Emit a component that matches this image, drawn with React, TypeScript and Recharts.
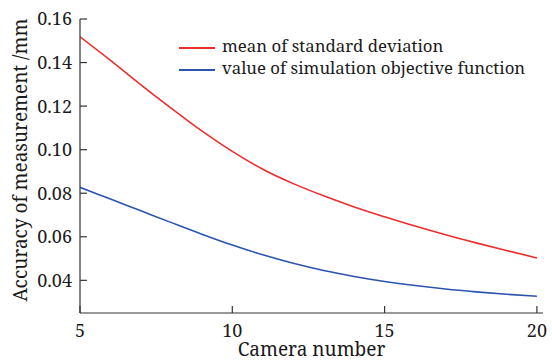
import { Label, Legend, Line, LineChart, XAxis, YAxis } from 'recharts'

const cameraNumbers = [5, 6, 7, 8, 9, 10, 11, 12, 13, 14, 15, 16, 17, 18, 19, 20]
const meanStdDev = [0.1518, 0.141, 0.1298, 0.119, 0.1086, 0.0992, 0.091, 0.0844, 0.0788, 0.0737, 0.0692, 0.0649, 0.0609, 0.0572, 0.0537, 0.0503]
const objectiveValue = [0.0827, 0.0773, 0.0719, 0.0665, 0.0612, 0.0562, 0.0517, 0.0478, 0.0445, 0.0418, 0.0395, 0.0376, 0.036, 0.0347, 0.0336, 0.0327]
const xTicks = [5, 10, 15, 20]
const yTicks = [0.04, 0.06, 0.08, 0.1, 0.12, 0.14, 0.16]

const data = cameraNumbers.map((n, i) => ({ n, meanStd: meanStdDev[i], objective: objectiveValue[i] }))

const FONT = '"Noto Serif"'
const AXIS = '#333'
const TEXT = '#1a1a1a'
const RED = '#ec2d2d'
const BLUE = '#2b53b0'

function LegendBox({ payload }: any) {
  return (
    <div style={{ fontFamily: FONT, fontSize: 16.8, color: TEXT, lineHeight: '22px' }}>
      {(payload || []).map((p: any) => (
        <div key={p.value} style={{ display: 'flex', alignItems: 'center', height: 22 }}>
          <svg width={36} height={4} style={{ marginRight: 7, position: 'relative', top: 2 }}>
            <line x1={0} x2={36} y1={2} y2={2} stroke={p.color} strokeWidth={2} />
          </svg>
          <span>{p.value}</span>
        </div>
      ))}
    </div>
  )
}

// rotated y title, placed from the axis viewBox
function YTitle({ viewBox }: any) {
  const cx = viewBox.x + 20
  const cy = viewBox.y + viewBox.height / 2 - 6
  return (
    <text x={cx} y={cy} transform={`rotate(-90 ${cx} ${cy})`} textAnchor="middle" dominantBaseline="central"
      fontFamily={FONT} fontSize={19} fill={TEXT}>
      Accuracy of measurement /mm
    </text>
  )
}

export default function App() {
  return (
    <div style={{ position: 'absolute', left: 0, top: 0, width: 552, height: 361, background: '#fff' }}>
      <LineChart width={552} height={361} data={data} margin={{ top: 19, right: 9, bottom: 0, left: 0 }}>
        <XAxis
          xAxisId="b"
          dataKey="n"
          type="number"
          domain={[5, 20.2]}
          ticks={xTicks}
          allowDataOverflow
          height={48}
          tickSize={-7}
          tickMargin={18}
          stroke={AXIS}
          strokeWidth={1.2}
          tick={{ fill: TEXT, fontSize: 18, fontFamily: FONT }}
        >
          <Label value="Camera number" position="insideBottom" offset={5} fill={TEXT} fontSize={19} fontFamily={FONT} />
        </XAxis>
        <XAxis xAxisId="t" orientation="top" type="number" domain={[5, 20.2]} height={0} tick={false} tickLine={false} stroke={AXIS} strokeWidth={1.2} />
        <YAxis
          yAxisId="l"
          type="number"
          domain={[0.025, 0.16]}
          ticks={yTicks}
          allowDataOverflow
          width={80}
          tickSize={-7}
          tickMargin={15}
          stroke={AXIS}
          strokeWidth={1.2}
          tickFormatter={(v: number) => v.toFixed(2)}
          tick={{ fill: TEXT, fontSize: 18, fontFamily: FONT }}
        >
          <Label content={<YTitle />} />
        </YAxis>
        <YAxis yAxisId="r" orientation="right" type="number" domain={[0.025, 0.16]} width={0} tick={false} tickLine={false} stroke={AXIS} strokeWidth={1.2} />
        <Legend
          layout="vertical"
          align="center"
          verticalAlign="middle"
          content={<LegendBox />}
          wrapperStyle={{ left: 179, top: 35, width: 'auto' }}
        />
        <Line xAxisId="b" yAxisId="l" type="monotone" dataKey="meanStd" name="mean of standard deviation" stroke={RED} strokeWidth={1.6} dot={false} isAnimationActive={false} />
        <Line xAxisId="b" yAxisId="l" type="monotone" dataKey="objective" name="value of simulation objective function" stroke={BLUE} strokeWidth={1.6} dot={false} isAnimationActive={false} />
      </LineChart>
    </div>
  )
}
